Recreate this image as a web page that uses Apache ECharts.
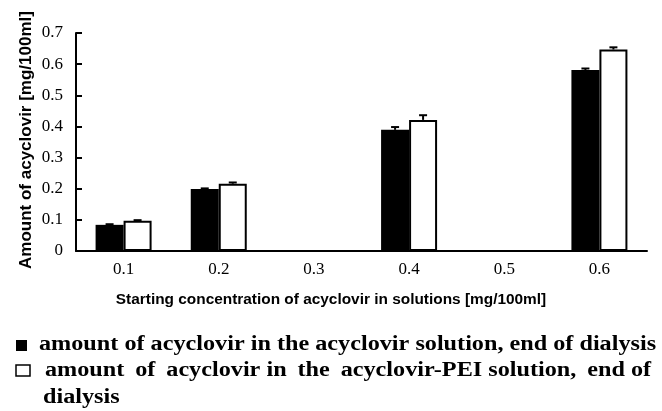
<!DOCTYPE html>
<html>
<head>
<meta charset="utf-8">
<script src="https://cdn.jsdelivr.net/npm/echarts@6/dist/echarts.min.js"></script>
<style>
  html, body { margin: 0; padding: 0; background: #fff; }
  #chart { width: 662px; height: 411px; }
</style>
</head>
<body>
<div id="chart"></div>
<script>
// concentrations on the x axis
const categories = ['0.1', '0.2', '0.3', '0.4', '0.5', '0.6']
// acyclovir solution (black bars) and acyclovir-PEI solution (white bars)
const plainValues = [0.084, 0.199, null, 0.389, null, 0.581]
const plainErrors = [0.002, 0.002, null, 0.009, null, 0.005]
const peiValues = [0.097, 0.216, null, 0.421, null, 0.647]
const peiErrors = [0.002, 0.004, null, 0.015, null, 0.007]
const legendLabels = [
    'amount of acyclovir in the acyclovir solution, end of dialysis',
    'amount \u2009of \u2009acyclovir in \u2009the \u2009acyclovir-PEI solution, \u2009end of',
    'dialysis'
]

const BAR_W = 28
const legendFont = 'bold 20px "Liberation Serif"'

// upper error bar with a small cap, shifted onto its bar
const errorBar = (values, errors, shift) => (params, api) => {
    const i = api.value(0)
    if (values[i] == null) return
    const base = api.coord([i, values[i]])
    const top = api.coord([i, values[i] + errors[i]])
    const x = base[0] + shift
    const style = { stroke: '#000', lineWidth: 2 }
    return {
        type: 'group',
        children: [
            { type: 'line', shape: { x1: x, y1: base[1], x2: x, y2: top[1] }, style },
            { type: 'line', shape: { x1: x - 4, y1: top[1], x2: x + 4, y2: top[1] }, style }
        ]
    }
}

const chart = echarts.init(document.getElementById('chart'))
const option = {
    animation: false,
    grid: { left: 76, right: 15, top: 33, bottom: 160, containLabel: false, outerBoundsMode: 'none' },
    xAxis: {
        type: 'category',
        data: categories,
        axisLine: { lineStyle: { color: '#000', width: 2 } },
        axisTick: { show: false },
        axisLabel: { color: '#000', fontFamily: 'Liberation Serif', fontSize: 17, margin: 10 }
    },
    yAxis: {
        type: 'value',
        min: 0,
        max: 0.7,
        interval: 0.1,
        splitLine: { show: false },
        axisLine: { show: true, lineStyle: { color: '#000', width: 2 } },
        axisTick: { show: true, inside: true, length: 6, lineStyle: { color: '#000', width: 2 } },
        axisLabel: {
            color: '#000', fontFamily: 'Liberation Serif', fontSize: 17, margin: 13,
            formatter: v => (v === 0 ? '0' : v.toFixed(1))
        }
    },
    series: [
        {
            type: 'bar',
            data: plainValues,
            barWidth: BAR_W,
            barGap: '0%',
            itemStyle: { color: '#000' }
        },
        {
            type: 'bar',
            data: peiValues,
            barWidth: BAR_W,
            barGap: '0%',
            itemStyle: { color: '#fff', borderColor: '#000', borderWidth: 2 }
        },
        {
            type: 'custom',
            data: categories.map((c, i) => [i]),
            renderItem: errorBar(plainValues, plainErrors, -BAR_W / 2),
            z: 5
        },
        {
            type: 'custom',
            data: categories.map((c, i) => [i]),
            renderItem: errorBar(peiValues, peiErrors, BAR_W / 2),
            z: 5
        }
    ],
    graphic: [
        {
            type: 'text', x: 26, y: 140, rotation: Math.PI / 2,
            style: {
                text: 'Amount of acyclovir [mg/100ml]', fill: '#000',
                font: 'bold 17px "Liberation Sans"', align: 'center', verticalAlign: 'middle'
            }
        },
        {
            type: 'text', x: 331, y: 300, scaleX: 1.1,
            style: {
                text: 'Starting concentration of acyclovir in solutions [mg/100ml]', fill: '#000',
                font: 'bold 14px "Liberation Sans"', align: 'center', verticalAlign: 'middle'
            }
        },
        { type: 'rect', shape: { x: 16, y: 340, width: 11, height: 11 }, style: { fill: '#000' } },
        { type: 'rect', shape: { x: 16, y: 365, width: 14, height: 11 }, style: { fill: '#fff', stroke: '#000', lineWidth: 1.5 } },
        {
            type: 'text', x: 39, y: 345, scaleX: 1.21,
            style: { text: legendLabels[0], fill: '#000', font: legendFont, verticalAlign: 'middle' }
        },
        {
            type: 'text', x: 45, y: 371, scaleX: 1.21,
            style: { text: legendLabels[1], fill: '#000', font: legendFont, verticalAlign: 'middle' }
        },
        {
            type: 'text', x: 43, y: 398, scaleX: 1.21,
            style: { text: legendLabels[2], fill: '#000', font: legendFont, verticalAlign: 'middle' }
        }
    ]
}
chart.setOption(option)
</script>
</body>
</html>
